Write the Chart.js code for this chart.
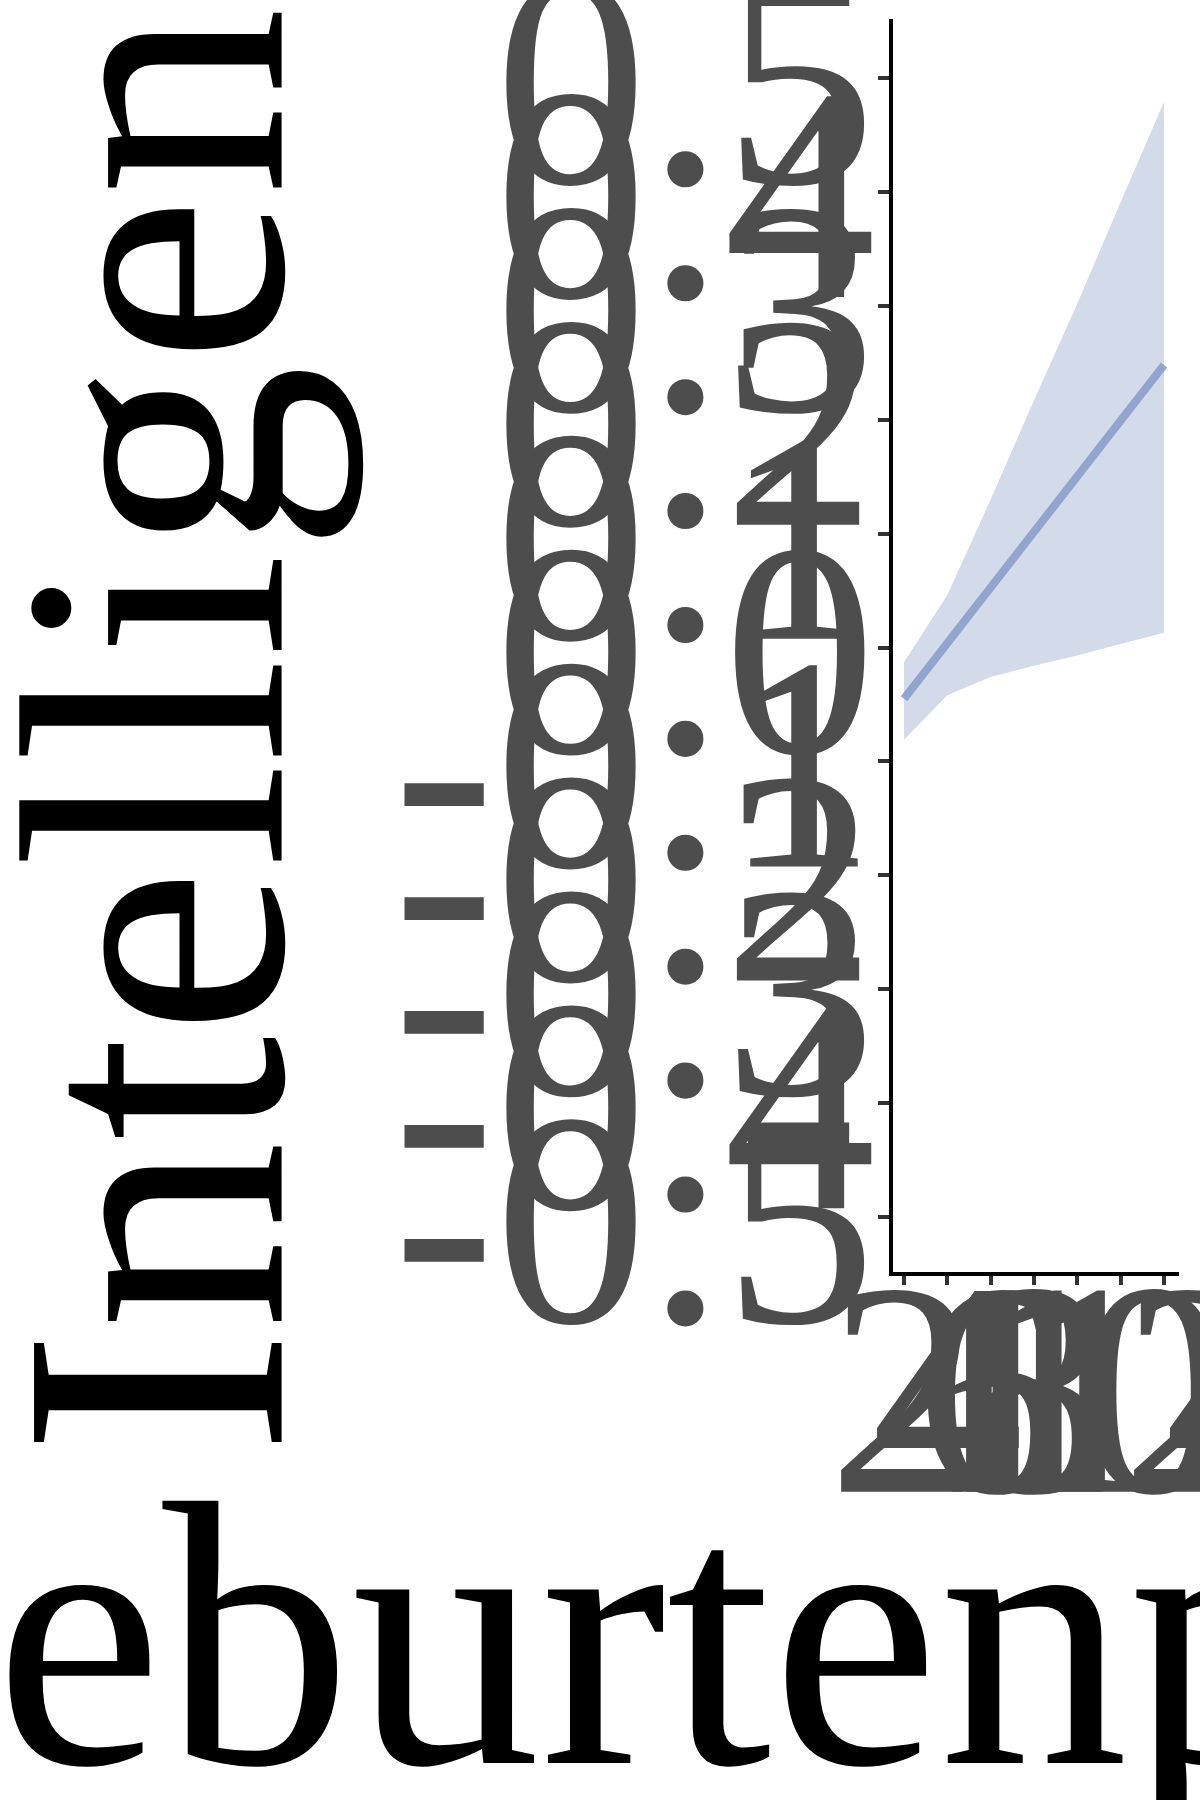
<!DOCTYPE html>
<html>
<head>
<meta charset="utf-8">
<script src="https://cdn.jsdelivr.net/npm/chart.js@4.4.1/dist/chart.umd.min.js"></script>
<style>
  html, body { margin: 0; padding: 0; background: #ffffff; }
  #wrap { width: 1200px; height: 1800px; position: relative; overflow: hidden; }
  canvas { display: block; }
</style>
</head>
<body>
<div id="wrap"><canvas id="c" width="1200" height="1800"></canvas></div>
<script>
// ---- data ----
const xTitle = 'Geburtenposition';
const yTitle = 'Intelligenz';
const xTickValues = [2, 4, 6, 8, 10, 12, 14];
const xTickLabels = ['2', '4', '6', '8', '10', '12', '14'];
const yTickValues = [-0.5, -0.4, -0.3, -0.2, -0.1, 0.0, 0.1, 0.2, 0.3, 0.4, 0.5];
const yTickLabels = ['-0.5', '-0.4', '-0.3', '-0.2', '-0.1', '0.0', '0.1', '0.2', '0.3', '0.4', '0.5'];
const ribbonX = [2, 4, 6, 8, 10, 12, 14];
const ribbonUpper = [-0.013, 0.046, 0.130, 0.217, 0.302, 0.391, 0.479];
const ribbonLower = [-0.081, -0.042, -0.026, -0.016, -0.007, 0.003, 0.013];
const fitX = [2, 14];
const fitY = [-0.045, 0.248];

const FONT = '"Liberation Serif"';
Chart.defaults.font.family = FONT;

const toPts = (xs, ys) => xs.map((x, i) => ({x: x, y: ys[i]}));

const xTitlePlugin = {
  id: 'xTitle',
  afterDraw(chart) {
    const {ctx, chartArea} = chart;
    ctx.save();
    ctx.font = '378px ' + FONT;
    ctx.fillStyle = '#000000';
    ctx.textAlign = 'center';
    ctx.textBaseline = 'alphabetic';
    ctx.fillText(xTitle, (chartArea.left + chartArea.right) / 2, chartArea.bottom + 489);
    ctx.restore();
  }
};

function build() {
  new Chart(document.getElementById('c'), {
    type: 'line',
    data: {
      datasets: [
        {
          label: 'fit',
          data: toPts(fitX, fitY),
          borderColor: '#91A5CF',
          borderWidth: 8,
          borderCapStyle: 'butt',
          pointRadius: 0,
          fill: false,
          tension: 0
        },
        {
          label: 'upper',
          data: toPts(ribbonX, ribbonUpper),
          borderWidth: 0,
          borderColor: 'rgba(0,0,0,0)',
          pointRadius: 0,
          backgroundColor: '#D3DAEA',
          fill: '+1',
          tension: 0
        },
        {
          label: 'lower',
          data: toPts(ribbonX, ribbonLower),
          borderWidth: 0,
          borderColor: 'rgba(0,0,0,0)',
          pointRadius: 0,
          fill: false,
          tension: 0
        }
      ]
    },
    options: {
      responsive: false,
      animation: false,
      events: [],
      layout: { autoPadding: false, padding: { left: 0, top: 21, right: 23, bottom: 0 } },
      plugins: { legend: { display: false }, tooltip: { enabled: false }, title: { display: false } },
      scales: {
        x: {
          type: 'linear',
          position: 'bottom',
          min: 1.4,
          max: 14.6,
          afterBuildTicks(scale) { scale.ticks = xTickValues.map(v => ({value: v})); },
          afterFit(scale) {
            scale.height = 526;
            scale.paddingLeft = 0; scale.paddingRight = 0;
            scale.paddingTop = 0; scale.paddingBottom = 0;
          },
          ticks: {
            autoSkip: false,
            maxRotation: 0,
            minRotation: 0,
            color: '#4D4D4D',
            padding: 22,
            font: { family: FONT, size: 305, lineHeight: 0.687 },
            callback: (v, i) => xTickLabels[i]
          },
          grid: { display: true, drawOnChartArea: false, drawTicks: true, tickLength: 11, tickWidth: 4, lineWidth: 4, tickColor: '#333333', color: '#333333' },
          border: { display: true, color: '#000000', width: 4 },
          title: { display: false }
        },
        y: {
          type: 'linear',
          position: 'left',
          min: -0.55,
          max: 0.55,
          afterBuildTicks(scale) { scale.ticks = yTickValues.map(v => ({value: v})); },
          afterFit(scale) {
            scale.width = 891;
            scale.paddingLeft = 0; scale.paddingRight = 0;
            scale.paddingTop = 0; scale.paddingBottom = 0;
          },
          ticks: {
            autoSkip: false,
            color: '#4D4D4D',
            padding: 2,
            labelOffset: 25,
            font: { family: FONT, size: 305, lineHeight: 1.0 },
            callback: (v, i) => yTickLabels[i]
          },
          grid: { display: true, drawOnChartArea: false, drawTicks: true, tickLength: 13, tickWidth: 4, lineWidth: 4, tickColor: '#333333', color: '#333333' },
          border: { display: true, color: '#000000', width: 4 },
          title: {
            display: true,
            text: yTitle,
            color: '#000000',
            padding: { top: 0, bottom: 0 },
            font: { family: FONT, size: 378, lineHeight: 0.9646 }
          }
        }
      }
    },
    plugins: [xTitlePlugin]
  });
}

const fontReady = (document.fonts && document.fonts.load)
  ? Promise.all([document.fonts.load('305px "Liberation Serif"'), document.fonts.load('378px "Liberation Serif"')]).catch(() => {})
  : Promise.resolve();
fontReady.then(build, build);
</script>
</body>
</html>
